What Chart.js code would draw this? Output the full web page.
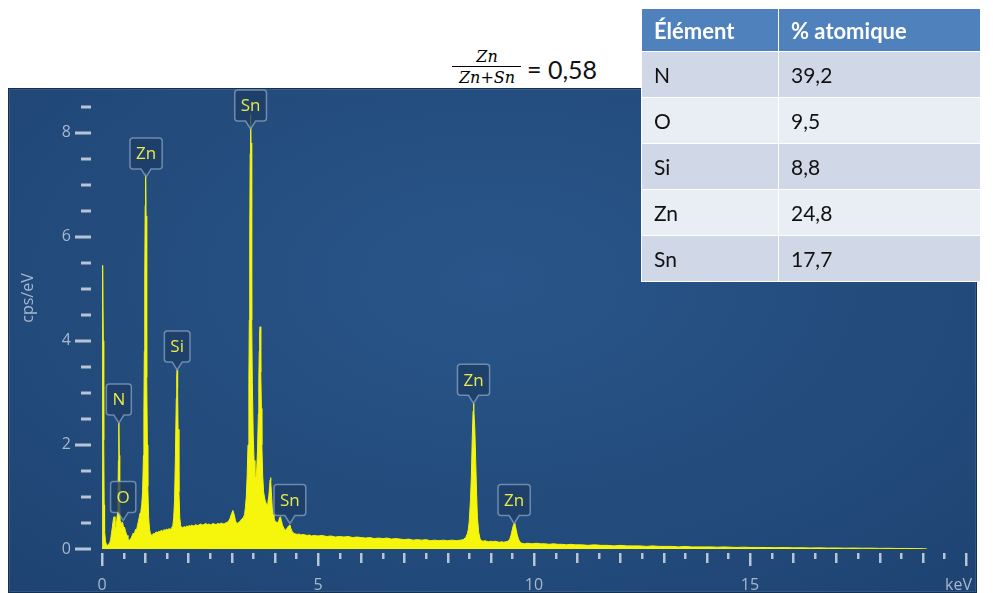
<!DOCTYPE html>
<html><head><meta charset="utf-8">
<script src="https://cdn.jsdelivr.net/npm/chart.js@4.4.1/dist/chart.umd.min.js"></script>
<style>
html,body{margin:0;padding:0;background:#fff;width:993px;height:593px;overflow:hidden;}
#panel{position:absolute;left:8px;top:88px;width:969px;height:505px;
  background:radial-gradient(ellipse 75% 85% at 50% 38%, #29558a 0%, #234c7c 55%, #1e4372 100%);
  box-shadow:inset 0 0 0 1px #14304f, inset 0 0 0 2px rgba(255,255,255,0.10);}
#spectrum{position:absolute;left:0;top:0;}
#tbl{position:absolute;left:641px;top:8px;border-collapse:collapse;font-family:Lato,'Open Sans',sans-serif;}
#tbl th,#tbl td{border:1.5px solid #fff;text-align:left;padding:0 0 0 12px;}
#tbl th{background:#4f81bd;color:#fff;font-weight:bold;font-size:22px;height:42px;}
#tbl td{font-size:21px;color:#111;height:45px;}
#tbl tr.b1 td{background:#d0d8e8;}
#tbl tr.b2 td{background:#e9edf4;}
.fx{position:absolute;white-space:nowrap;line-height:1;}
#num,#den{font-family:'DejaVu Serif',serif;font-style:italic;font-size:16px;transform:translateX(-50%);}
#bar{position:absolute;left:452px;top:66px;width:69px;height:1px;background:#000;}
#eq{font-family:Lato,'Open Sans',sans-serif;font-size:25px;color:#111;}
</style>
</head><body>
<div class="fx" id="num" style="left:487px;top:49px;">Zn</div>
<div id="bar"></div>
<div class="fx" id="den" style="left:487px;top:70px;">Zn+Sn</div>
<div class="fx" id="eq" style="left:527px;top:57px;">= 0,58</div>

<div id="panel"><canvas id="spectrum" width="969" height="505"></canvas></div>
<table id="tbl"><thead><tr><th style="width:124px">Élément</th><th style="width:189px">% atomique</th></tr></thead><tbody id="tbody"></tbody></table>

<script>
// ---- Table data ----
const tableElements = ['N', 'O', 'Si', 'Zn', 'Sn'];
const tableAtomicPercent = ['39,2', '9,5', '8,8', '24,8', '17,7'];

// ---- Formula ----
const ratioValue = '0,58';

// ---- Axis ticks ----
const xLabelValues = [0, 5, 10, 15];
const yLabelValues = [0, 2, 4, 6, 8];
const xUnitLabel = 'keV';
const yUnitLabel = 'cps/eV';

// ---- Spectrum (energy keV, counts cps/eV) ----
const energyKeV = [
  0.00, 0.01, 0.02, 0.03, 0.04, 0.05, 0.06, 0.08, 0.10, 0.12,
  0.14, 0.16, 0.18, 0.20, 0.22, 0.24, 0.26, 0.28, 0.30, 0.32,
  0.34, 0.36, 0.37, 0.38, 0.39, 0.40, 0.41, 0.42, 0.44, 0.46,
  0.48, 0.50, 0.52, 0.54, 0.56, 0.58, 0.60, 0.62, 0.64, 0.66,
  0.68, 0.70, 0.72, 0.74, 0.76, 0.78, 0.80, 0.82, 0.84, 0.86,
  0.88, 0.90, 0.92, 0.94, 0.96, 0.97, 0.98, 0.99, 1.00, 1.01,
  1.02, 1.03, 1.04, 1.05, 1.06, 1.08, 1.10, 1.12, 1.14, 1.16,
  1.19, 1.22, 1.25, 1.28, 1.31, 1.34, 1.37, 1.40, 1.43, 1.46,
  1.49, 1.52, 1.55, 1.58, 1.61, 1.64, 1.66, 1.68, 1.70, 1.72,
  1.73, 1.74, 1.75, 1.76, 1.78, 1.80, 1.82, 1.84, 1.87, 1.90,
  1.93, 1.96, 1.99, 2.02, 2.05, 2.08, 2.11, 2.14, 2.17, 2.20,
  2.24, 2.28, 2.32, 2.36, 2.40, 2.44, 2.48, 2.52, 2.56, 2.60,
  2.64, 2.68, 2.72, 2.76, 2.80, 2.84, 2.88, 2.92, 2.96, 3.00,
  3.03, 3.06, 3.09, 3.12, 3.15, 3.18, 3.21, 3.24, 3.27, 3.30,
  3.32, 3.34, 3.36, 3.38, 3.40, 3.41, 3.42, 3.43, 3.44, 3.45,
  3.46, 3.47, 3.48, 3.50, 3.52, 3.54, 3.56, 3.58, 3.60, 3.62,
  3.63, 3.64, 3.65, 3.66, 3.67, 3.68, 3.69, 3.70, 3.72, 3.74,
  3.76, 3.78, 3.80, 3.82, 3.84, 3.86, 3.88, 3.89, 3.90, 3.91,
  3.92, 3.94, 3.96, 3.98, 4.00, 4.03, 4.06, 4.09, 4.11, 4.13,
  4.15, 4.18, 4.21, 4.24, 4.27, 4.30, 4.33, 4.35, 4.37, 4.40,
  4.44, 4.48, 4.52, 4.56, 4.60, 4.65, 4.70, 4.75, 4.80, 4.85,
  4.90, 5.00, 5.10, 5.20, 5.30, 5.40, 5.50, 5.60, 5.70, 5.80,
  5.90, 6.00, 6.10, 6.20, 6.30, 6.40, 6.50, 6.60, 6.70, 6.80,
  6.90, 7.00, 7.10, 7.20, 7.30, 7.40, 7.50, 7.60, 7.70, 7.80,
  7.90, 8.00, 8.10, 8.20, 8.30, 8.36, 8.42, 8.46, 8.48, 8.50,
  8.53, 8.55, 8.57, 8.59, 8.60, 8.61, 8.63, 8.65, 8.67, 8.69,
  8.72, 8.75, 8.78, 8.82, 8.86, 8.90, 8.95, 9.00, 9.05, 9.10,
  9.15, 9.20, 9.25, 9.30, 9.35, 9.40, 9.44, 9.47, 9.50, 9.52,
  9.54, 9.56, 9.58, 9.61, 9.64, 9.68, 9.72, 9.78, 9.85, 9.95,
  10.05, 10.15, 10.25, 10.35, 10.45, 10.55, 10.65, 10.75, 10.85, 10.95,
  11.10, 11.25, 11.40, 11.55, 11.70, 11.85, 12.00, 12.15, 12.30, 12.45,
  12.60, 12.75, 12.90, 13.05, 13.20, 13.35, 13.50, 13.65, 13.80, 13.95,
  14.10, 14.25, 14.40, 14.55, 14.70, 14.85, 15.00, 15.20, 15.40, 15.60,
  15.80, 16.00, 16.20, 16.40, 16.60, 16.80, 17.00, 17.20, 17.40, 17.60,
  17.80, 18.00, 18.20, 18.40, 18.60, 18.80, 19.00, 19.10
];
const countsCpsPerEV = [
  0.05, 2.60, 5.45, 4.00, 2.10, 0.85, 0.35, 0.15, 0.09, 0.07,
  0.08, 0.10, 0.12, 0.18, 0.30, 0.42, 0.55, 0.62, 0.45, 0.38,
  0.55, 0.69, 0.95, 1.70, 2.42, 1.80, 0.95, 0.55, 0.48, 0.52,
  0.50, 0.40, 0.42, 0.36, 0.30, 0.26, 0.20, 0.18, 0.17, 0.19,
  0.22, 0.26, 0.30, 0.28, 0.33, 0.38, 0.36, 0.45, 0.52, 0.60,
  0.69, 0.72, 0.85, 1.10, 1.80, 2.60, 3.80, 5.20, 6.60, 7.23,
  6.40, 4.90, 3.30, 2.00, 1.20, 0.60, 0.38, 0.30, 0.27, 0.26,
  0.30, 0.29, 0.33, 0.31, 0.34, 0.33, 0.36, 0.34, 0.37, 0.36,
  0.38, 0.37, 0.39, 0.38, 0.40, 0.45, 0.60, 0.95, 1.80, 2.90,
  3.30, 3.44, 3.10, 2.30, 1.10, 0.60, 0.45, 0.42, 0.41, 0.43,
  0.42, 0.44, 0.43, 0.45, 0.44, 0.46, 0.44, 0.45, 0.47, 0.45,
  0.46, 0.48, 0.46, 0.47, 0.49, 0.47, 0.48, 0.46, 0.49, 0.48,
  0.47, 0.49, 0.48, 0.50, 0.48, 0.49, 0.51, 0.52, 0.58, 0.68,
  0.74, 0.66, 0.54, 0.49, 0.50, 0.52, 0.55, 0.58, 0.60, 0.66,
  0.80, 1.00, 1.40, 2.00, 3.20, 4.40, 6.00, 7.60, 8.35, 7.80,
  6.20, 4.40, 3.20, 2.20, 1.70, 1.40, 1.35, 1.50, 1.90, 2.60,
  3.20, 3.80, 4.15, 4.27, 4.00, 3.40, 2.70, 2.00, 1.40, 1.10,
  1.00, 0.92, 0.88, 0.85, 0.90, 1.00, 1.20, 1.32, 1.37, 1.30,
  1.10, 0.80, 0.66, 0.60, 0.55, 0.52, 0.50, 0.54, 0.60, 0.62,
  0.55, 0.45, 0.40, 0.36, 0.38, 0.42, 0.45, 0.46, 0.40, 0.34,
  0.30, 0.29, 0.28, 0.29, 0.27, 0.28, 0.27, 0.26, 0.27, 0.25,
  0.26, 0.25, 0.26, 0.24, 0.25, 0.23, 0.24, 0.23, 0.24, 0.22,
  0.23, 0.22, 0.21, 0.22, 0.20, 0.21, 0.20, 0.21, 0.19, 0.20,
  0.19, 0.18, 0.19, 0.17, 0.18, 0.17, 0.18, 0.16, 0.17, 0.16,
  0.17, 0.16, 0.17, 0.16, 0.17, 0.18, 0.22, 0.30, 0.38, 0.52,
  0.95, 1.40, 2.10, 2.65, 2.80, 2.70, 2.30, 1.70, 1.10, 0.60,
  0.32, 0.20, 0.16, 0.15, 0.16, 0.15, 0.14, 0.15, 0.14, 0.15,
  0.14, 0.13, 0.14, 0.13, 0.14, 0.15, 0.19, 0.27, 0.38, 0.45,
  0.49, 0.47, 0.40, 0.28, 0.19, 0.13, 0.11, 0.10, 0.11, 0.10,
  0.11, 0.10, 0.10, 0.09, 0.10, 0.09, 0.09, 0.08, 0.09, 0.08,
  0.08, 0.07, 0.08, 0.07, 0.07, 0.06, 0.07, 0.06, 0.06, 0.06,
  0.05, 0.06, 0.05, 0.05, 0.05, 0.04, 0.05, 0.04, 0.04, 0.04,
  0.04, 0.035, 0.04, 0.035, 0.03, 0.035, 0.03, 0.03, 0.028, 0.025,
  0.028, 0.022, 0.024, 0.020, 0.022, 0.018, 0.020, 0.016, 0.018, 0.015,
  0.016, 0.012, 0.014, 0.010, 0.011, 0.008, 0.006, 0.0
];

// ---- Peak markers ----
const peakNames = ['N', 'O', 'Zn', 'Si', 'Sn', 'Sn', 'Zn', 'Zn'];
const peakEnergyKeV = [0.39, 0.49, 1.02, 1.74, 3.44, 4.35, 8.60, 9.54];
const peakTipCps = [2.42, 0.55, 7.15, 3.44, 8.07, 0.49, 2.80, 0.49];

// build table
const tb = document.getElementById('tbody');
tableElements.forEach((el, i) => {
  const tr = document.createElement('tr');
  tr.className = i % 2 === 0 ? 'b1' : 'b2';
  const a = document.createElement('td'); a.textContent = el;
  const b = document.createElement('td'); b.textContent = tableAtomicPercent[i];
  tr.appendChild(a); tr.appendChild(b); tb.appendChild(tr);
});
document.getElementById('eq').textContent = '= ' + ratioValue;

const TICK_COLOR = '#b6c4d6';
const LABEL_COLOR = '#a7b8cd';
const YELLOW = '#f6f60c';
const isHalfStep = v => Math.abs(v * 2 - Math.round(v * 2)) < 1e-9;

const tickMarks = {
  id: 'tickMarks',
  afterDraw(chart) {
    const {ctx, chartArea, scales} = chart;
    ctx.save();
    ctx.fillStyle = TICK_COLOR;
    scales.x.ticks.forEach(t => {
      const v = t.value;
      if (!isHalfStep(v)) return;
      const px = scales.x.getPixelForValue(v);
      const len = (Math.abs(v % 5) < 1e-9) ? 13 : (Math.abs(v % 1) < 1e-9 ? 10 : 6);
      ctx.fillRect(Math.round(px) - 1, chartArea.bottom + 4, 2.5, len);
    });
    scales.y.ticks.forEach(t => {
      const v = t.value;
      if (!isHalfStep(v)) return;
      const py = scales.y.getPixelForValue(v);
      const major = yLabelValues.includes(v);
      const x0 = chartArea.left - (major ? 27 : 21);
      ctx.fillRect(x0, Math.round(py) - 1.5, chartArea.left - 11 - x0, 3);
    });
    // x tick labels and unit labels (alphabetic baseline, like the reference)
    ctx.fillStyle = LABEL_COLOR;
    ctx.font = '16px "Open Sans"';
    ctx.textBaseline = 'alphabetic';
    const baseY = chartArea.bottom + 41;
    ctx.textAlign = 'center';
    scales.x.ticks.forEach(t => {
      if (xLabelValues.includes(t.value)) {
        ctx.fillText(String(t.value), scales.x.getPixelForValue(t.value), baseY);
      }
    });
    ctx.textAlign = 'right';
    ctx.fillText(xUnitLabel, scales.x.getPixelForValue(20) + 6, baseY);
    ctx.save();
    ctx.textBaseline = 'middle';
    ctx.translate(20, (chartArea.top + chartArea.bottom) / 2 - 22);
    ctx.rotate(-Math.PI / 2);
    ctx.textAlign = 'center';
    ctx.fillText(yUnitLabel, 0, 0);
    ctx.restore();
    ctx.restore();
  }
};

const peakMarkers = {
  id: 'peakMarkers',
  afterDatasetsDraw(chart) {
    const {ctx, scales} = chart;
    ctx.save();
    ctx.font = '17px "Open Sans"';
    peakNames.forEach((name, i) => {
      const cx = scales.x.getPixelForValue(peakEnergyKeV[i]);
      const tip = scales.y.getPixelForValue(peakTipCps[i]);
      const tw = ctx.measureText(name).width;
      const w = Math.max(25, tw + 12), h = 31, tail = 8, r = 3, hw = 5;
      const bottom = tip - tail, top = bottom - h;
      const l = cx - w / 2, rgt = cx + w / 2;
      ctx.beginPath();
      ctx.moveTo(l + r, top);
      ctx.lineTo(rgt - r, top);
      ctx.quadraticCurveTo(rgt, top, rgt, top + r);
      ctx.lineTo(rgt, bottom - r);
      ctx.quadraticCurveTo(rgt, bottom, rgt - r, bottom);
      ctx.lineTo(cx + hw, bottom);
      ctx.lineTo(cx, tip);
      ctx.lineTo(cx - hw, bottom);
      ctx.lineTo(l + r, bottom);
      ctx.quadraticCurveTo(l, bottom, l, bottom - r);
      ctx.lineTo(l, top + r);
      ctx.quadraticCurveTo(l, top, l + r, top);
      ctx.closePath();
      ctx.fillStyle = 'rgba(28,60,100,0.78)';
      ctx.fill();
      ctx.lineWidth = 1.5;
      ctx.strokeStyle = 'rgba(150,176,206,0.65)';
      ctx.stroke();
      ctx.fillStyle = '#e8ea4c';
      ctx.textAlign = 'center';
      ctx.textBaseline = 'middle';
      ctx.fillText(name, cx, top + h / 2 + 1);
    });
    ctx.restore();
  }
};

const hiddenTickGrid = len => ({display: true, drawOnChartArea: false, drawTicks: true, tickLength: len, color: 'rgba(0,0,0,0)'});

new Chart(document.getElementById('spectrum').getContext('2d'), {
  type: 'line',
  data: {
    datasets: [{
      data: energyKeV.map((e, i) => ({x: e, y: countsCpsPerEV[i]})),
      borderColor: YELLOW,
      backgroundColor: YELLOW,
      borderWidth: 1,
      fill: 'origin',
      pointRadius: 0,
      tension: 0
    }]
  },
  options: {
    responsive: false,
    animation: false,
    events: [],
    layout: {padding: {left: 0, right: 11, top: 3, bottom: 0}},
    plugins: {legend: {display: false}, tooltip: {enabled: false}},
    scales: {
      x: {
        type: 'linear', min: 0, max: 20, bounds: 'data',
        afterFit: s => { s.height = 44; },
        border: {display: false},
        grid: {display: false},
        ticks: {
          display: false,
          stepSize: 0.5, autoSkip: false, maxRotation: 0, includeBounds: false,
          padding: 0
        }
      },
      y: {
        type: 'linear', min: 0, max: 8.8, bounds: 'data',
        afterFit: s => { s.width = 94; },
        border: {display: false},
        grid: hiddenTickGrid(31),
        ticks: {
          stepSize: 0.5, autoSkip: false, includeBounds: false,
          padding: 0, color: LABEL_COLOR, font: {family: 'Open Sans', size: 16, lineHeight: 0.3},
          callback: v => yLabelValues.includes(v) ? String(v) : ''
        }
      }
    }
  },
  plugins: [tickMarks, peakMarkers]
});
</script>
</body></html>
